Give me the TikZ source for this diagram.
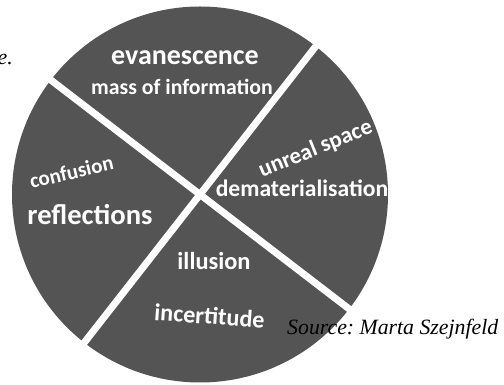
\documentclass[tikz,border=0pt]{standalone}
\usepackage{fontspec}
\setmainfont{Liberation Serif}
\newfontfamily\labelfont{Carlito}
\usepackage{xcolor}
\usetikzlibrary{calc, positioning}
\definecolor{diskgray}{RGB}{84,84,84}
\frenchspacing

\tikzset{
  sector/.style={text=white, inner sep=0pt, anchor=base},
  divider/.style={draw=white, line width=7pt},
  caption/.style={inner sep=0pt}
}
\newcommand{\lblsize}[1]{\labelfont\bfseries\fontsize{#1}{#1}\selectfont}

\begin{document}
\begin{tikzpicture}[x=1pt, y=1pt]
  \useasboundingbox (0,0) rectangle (504,385);
  % Disk
  \coordinate (c) at (200,190.5);
  \fill[diskgray] (c) circle[radius=188];
  % Dividing lines
  \coordinate (ul) at ($(c)+(142.5:196)$);
  \coordinate (lr) at ($(c)+(-37.5:196)$);
  \coordinate (ur) at ($(c)+(52:196)$);
  \coordinate (ll) at ($(c)+(232:196)$);
  \draw[divider] (ul) -- (lr);
  \draw[divider] (ur) -- (ll);
  % Top sector
  \node[sector, font=\lblsize{28}] (evan) at (185,320) {evanescence};
  \node[sector, font=\lblsize{21.8}] (mass) at (182,290) {mass of information};
  % Right sector
  \node[sector, font=\lblsize{23}, rotate=22] (unreal) at (318,230) {unreal space};
  \node[sector, font=\lblsize{23.6}] (demat) at (302,188) {dematerialisation};
  % Left sector
  \node[sector, font=\lblsize{21}, rotate=13] (conf) at (73,206) {confusion};
  \node[sector, font=\lblsize{28.6}] (refl) at (90,160) {reflections};
  % Bottom sector
  \node[sector, font=\lblsize{24.4}] (illu) at (214,115) {illusion};
  \node[sector, font=\lblsize{24.2}, rotate=-4] (incert) at (209,61) {incertitude};
  % Captions
  \node[caption, anchor=base east, font=\itshape\fontsize{21.8}{24}\selectfont] (re) at (13,320) {re.};
  \node[caption, anchor=base west, font=\itshape\fontsize{21.8}{24}\selectfont] (source) at (287,50) {Source: Marta Szejnfeld};
\end{tikzpicture}
\end{document}
